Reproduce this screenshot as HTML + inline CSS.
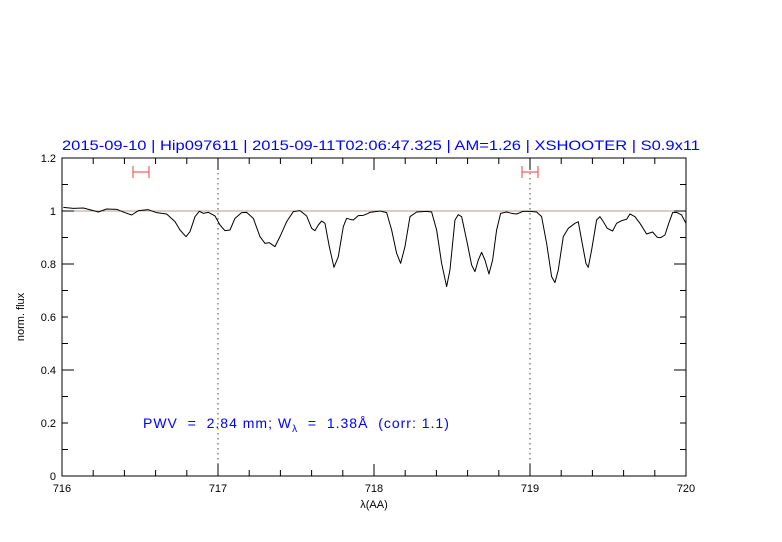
<!DOCTYPE html>
<html><head><meta charset="utf-8"><style>body{margin:0;background:#fff}svg{display:block}</style></head><body>
<svg width="782" height="542" xmlns="http://www.w3.org/2000/svg" font-family="Liberation Sans, sans-serif">
<rect width="782" height="542" fill="#fff"/>
<text x="62" y="150" font-size="14" fill="#0000ff" textLength="638" lengthAdjust="spacingAndGlyphs">2015-09-10 | Hip097611 | 2015-09-11T02:06:47.325 | AM=1.26 | XSHOOTER | S0.9x11</text>
<g stroke="#000" stroke-width="1" fill="none">
<rect x="62" y="158" width="624" height="318"/>
<path d="M218 158V476M530 158V476" stroke-dasharray="1.5,3.5" stroke="#444"/>
<path d="M62 211H686" stroke="#b99"/>
</g>
<g stroke="#000" stroke-width="1">
<path d="M93.2 476v-6M124.4 476v-6M155.6 476v-6M186.8 476v-6M249.2 476v-6M280.4 476v-6M311.6 476v-6M342.8 476v-6M405.2 476v-6M436.4 476v-6M467.6 476v-6M498.8 476v-6M561.2 476v-6M592.4 476v-6M623.6 476v-6M654.8 476v-6
M93.2 158v6M124.4 158v6M155.6 158v6M186.8 158v6M249.2 158v6M280.4 158v6M311.6 158v6M342.8 158v6M405.2 158v6M436.4 158v6M467.6 158v6M498.8 158v6M561.2 158v6M592.4 158v6M623.6 158v6M654.8 158v6
M218 476v-12M374 476v-12M530 476v-12M218 158v12M374 158v12M530 158v12"/>
<path d="M62 449.5h6M62 423h6M62 396.5h6M62 343.5h6M62 317h6M62 290.5h6M62 237.5h6M62 211h6M62 184.5h6
M686 449.5h-6M686 423h-6M686 396.5h-6M686 343.5h-6M686 317h-6M686 290.5h-6M686 237.5h-6M686 211h-6M686 184.5h-6
M62 370h12M62 264h12M62 211h12M686 370h-12M686 264h-12M686 211h-12"/>
</g>
<g stroke="#f06060" stroke-width="1.2" fill="none">
<path d="M133 172h16M133 166v12M149 166v12M522 172h16M522 166v12M538 166v12"/>
</g>
<g transform="translate(60,150) scale(0.3333)">
<path fill="none" stroke="#000" stroke-width="3" stroke-linejoin="round" d="M10 172L40 175L70 174L100 182L115 186L140 177L170 178L195 188L215 195L235 182L265 179L290 188L320 192L345 215L360 240L378 260L390 245L405 200L418 184L430 190L445 187L465 198L480 225L495 242L510 240L525 205L545 188L560 187L580 205L600 260L615 280L628 278L645 290L660 260L680 215L700 185L720 182L740 198L755 235L765 242L775 225L785 213L795 220L808 290L822 352L835 320L850 230L860 205L870 208L880 210L895 197L910 196L925 190L930 187L960 183L980 188L995 240L1010 310L1022 340L1035 290L1050 200L1070 186L1100 184L1115 186L1130 240L1145 340L1160 410L1170 360L1185 210L1195 194L1205 200L1220 270L1235 345L1245 365L1255 330L1265 307L1275 330L1287 372L1298 330L1310 240L1322 190L1340 186L1355 190L1370 192L1390 184L1410 184L1430 186L1445 200L1460 280L1475 380L1485 398L1495 360L1510 260L1525 235L1545 220L1555 215L1565 270L1578 340L1585 352L1595 300L1610 210L1620 200L1630 215L1642 235L1658 243L1670 220L1685 212L1700 208L1710 192L1725 200L1740 220L1760 252L1778 246L1792 262L1802 263L1815 255L1827 218L1838 188L1850 187L1865 195L1878 220"/>
</g>
<g font-size="11" fill="#000" text-anchor="middle">
<text x="62" y="492">716</text><text x="218" y="492">717</text><text x="374" y="492">718</text><text x="530" y="492">719</text><text x="686" y="492">720</text>
</g>
<g font-size="11" fill="#000" text-anchor="end">
<text x="56" y="480">0</text><text x="56" y="427">0.2</text><text x="56" y="374">0.4</text><text x="56" y="321">0.6</text><text x="56" y="268">0.8</text><text x="56" y="215">1</text><text x="56" y="162">1.2</text>
</g>
<text x="374" y="508" font-size="11" text-anchor="middle">λ(AA)</text>
<text transform="translate(24,317) rotate(-90)" font-size="11" text-anchor="middle">norm. flux</text>
<text x="143" y="428" font-size="14" fill="#0000ff" letter-spacing="1.0" xml:space="preserve">PWV  =  2.84 mm; W<tspan font-size="10" dy="4">λ</tspan><tspan dy="-4">  =  1.38Å  (corr: 1.1)</tspan></text>
</svg>
</body></html>
